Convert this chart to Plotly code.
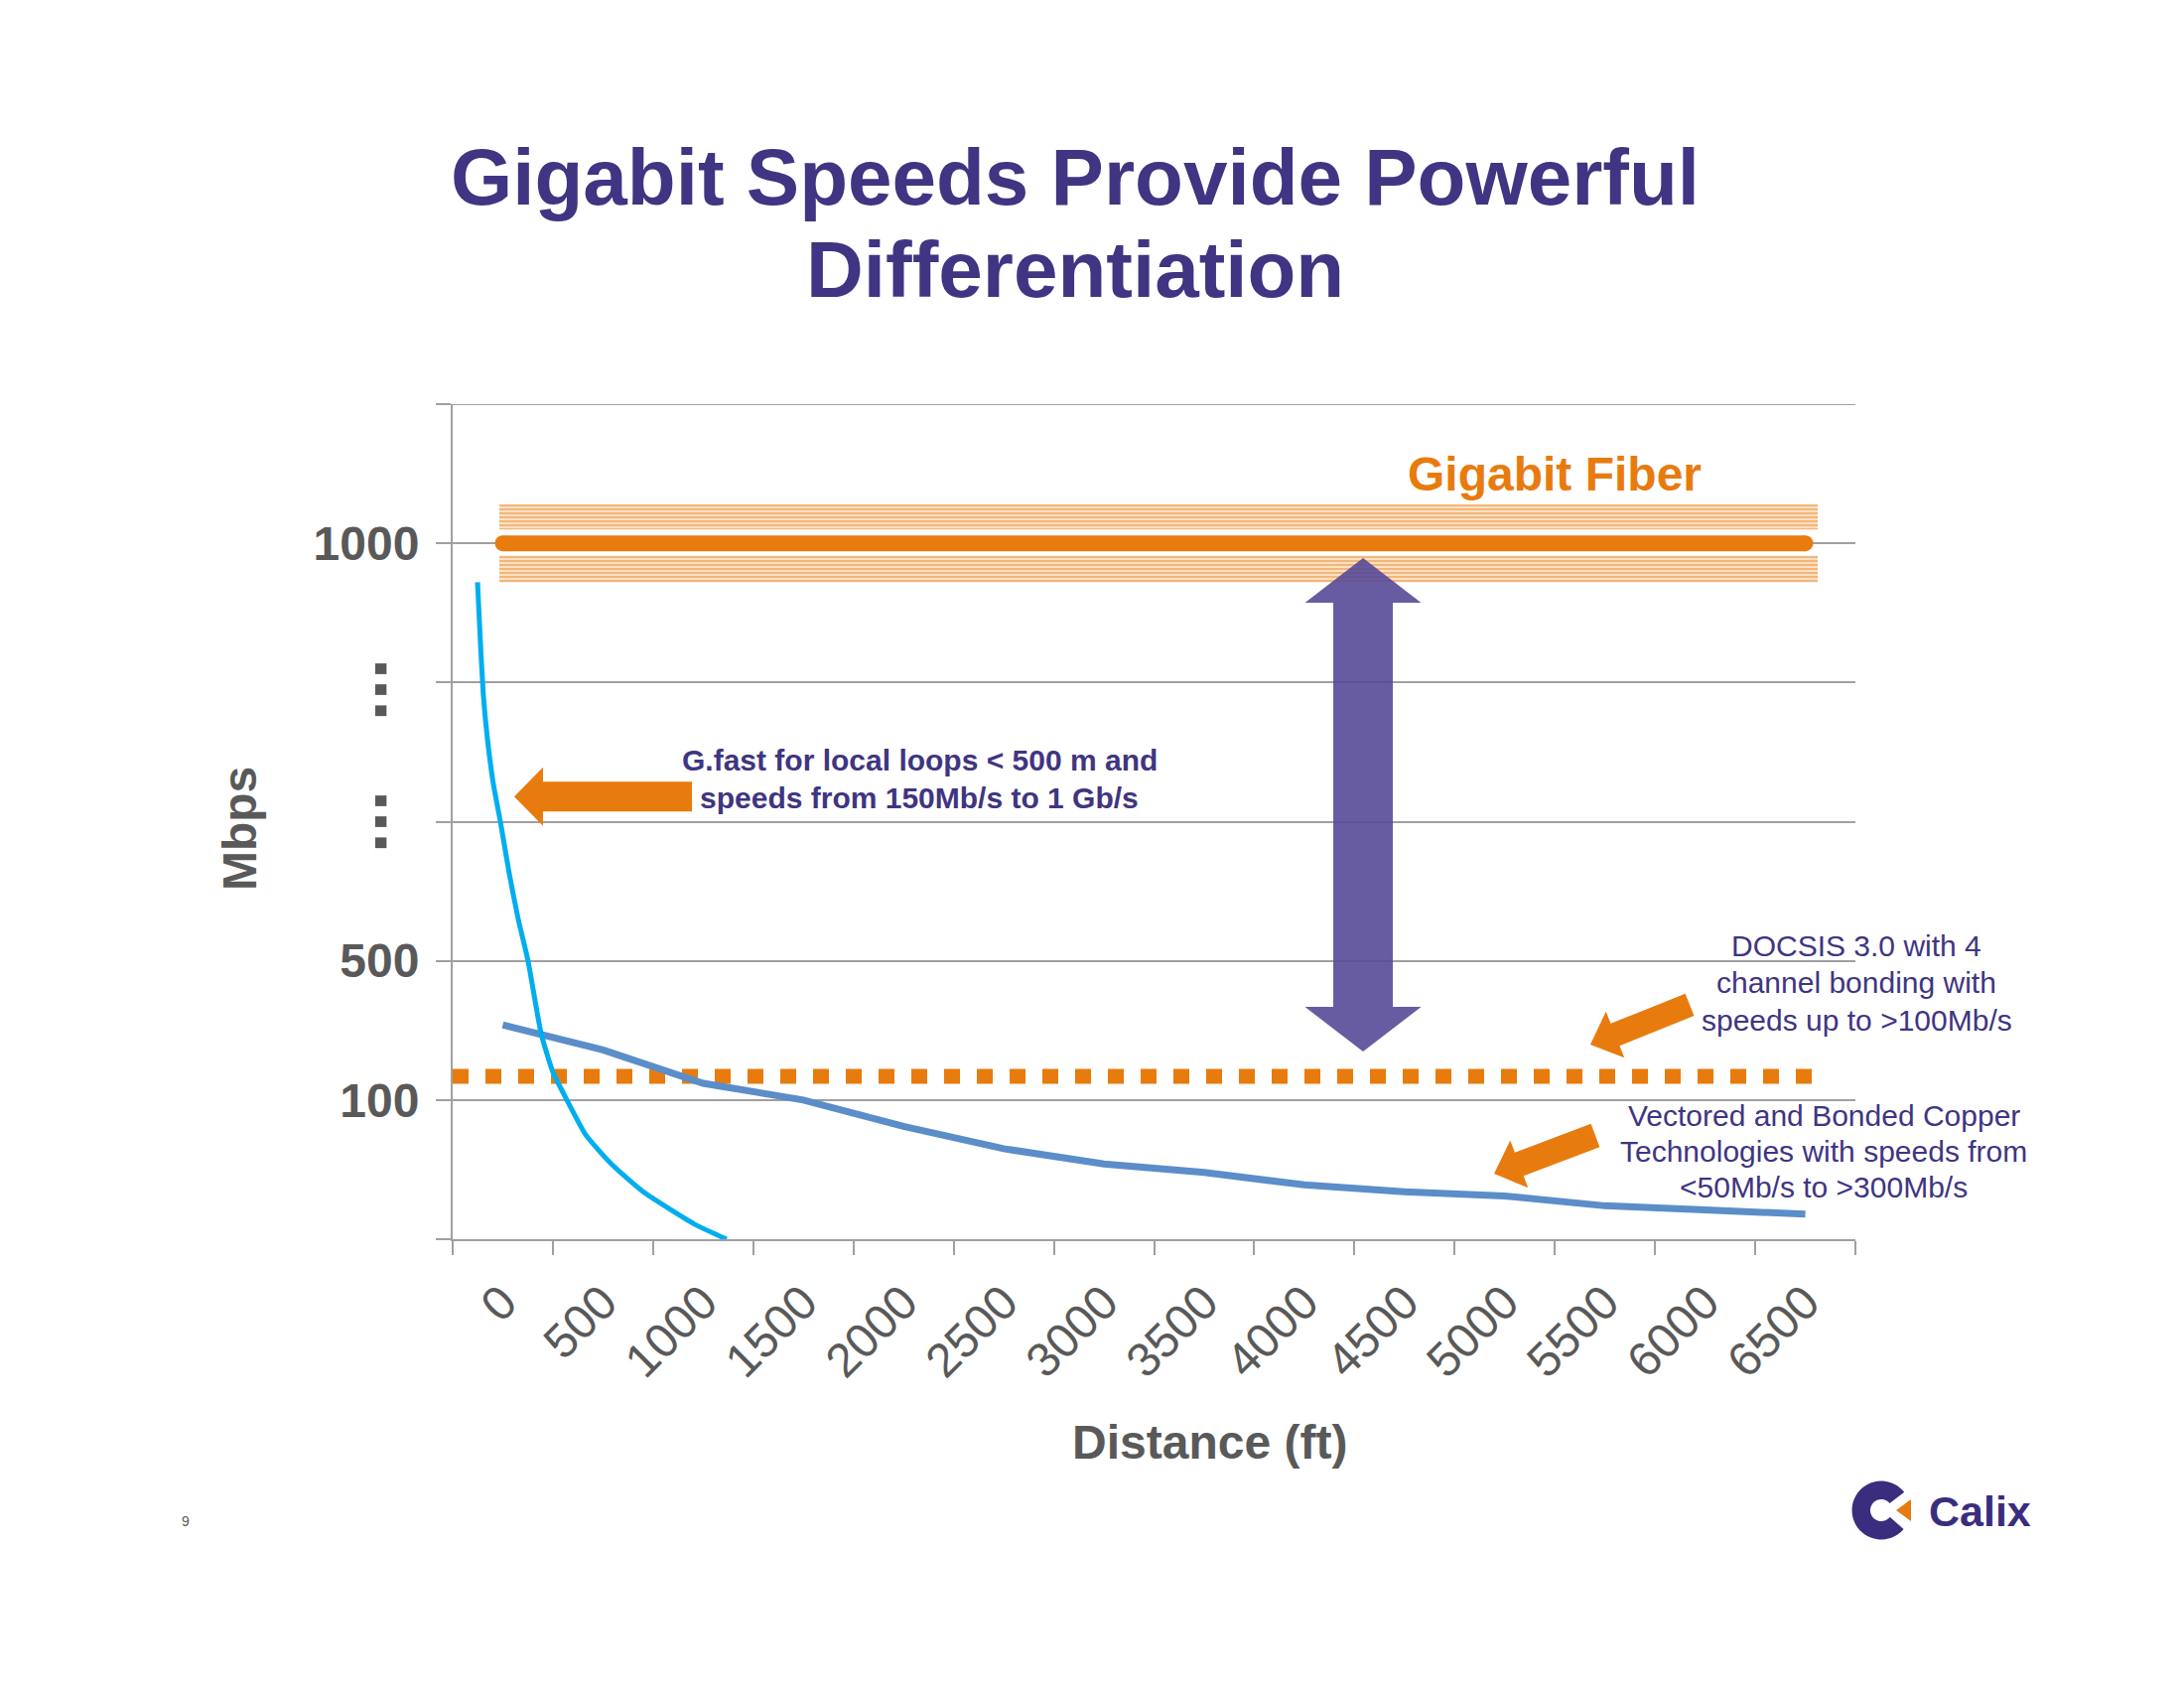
import math
import plotly.graph_objects as go

# ---------------- data ----------------
distance_ft = [0, 500, 1000, 1500, 2000, 2500, 3000, 3500, 4000, 4500, 5000, 5500, 6000, 6500]
distance_labels = [str(d) for d in distance_ft]
boundary_ft = [-250 + 500 * k for k in range(15)]

speed_levels = [0, 1, 2, 3, 4, 5, 6]
speed_labels = ["", "100", "500", "", "", "1000", ""]

# Vectored / bonded copper (level units of the chart's stepped speed axis)
copper_level = [1.54, 1.36, 1.12, 1.0, 0.81, 0.65, 0.54, 0.48, 0.39, 0.34, 0.31, 0.24, 0.21, 0.18]

# G.fast curve
gfast_ft = [-126, -111, -97, -77, -47, -12, 32, 77, 126, 191, 250, 320, 414, 542, 701, 954, 1117]
gfast_level = [4.72, 4.27, 3.91, 3.60, 3.27, 3.0, 2.63, 2.30, 2.0, 1.48, 1.20, 1.0, 0.75, 0.54, 0.34, 0.11, 0.0]

# Gigabit fiber
fiber_ft = [0, 6500]
fiber_level = [5, 5]
fiber_band_ft = [-17, 6562]
fiber_band_upper = [5.10, 5.28]
fiber_band_lower = [4.72, 4.91]

# DOCSIS 3.0
docsis_ft = [-250, 6550]
docsis_level = [1.17, 1.17]

# ---------------- style ----------------
W, H = 2200, 1700
PAGE_OFF = 8                      # browser body margin
L, T = 456, 407                   # plot area (screen px)
PW, PH = 1413, 841
XR = [-250, 6750]
YR = [0, 6]

FONT = "Liberation Sans, Arial, Helvetica, sans-serif"
GREY_TXT = "#595959"
GRID = "#A0A0A0"
ORANGE = "#E87B0E"
PURPLE = "#3F3582"
CYAN = "#00AEEF"
STEEL = "#5B8DC9"


def d2px(x, lvl):
    return (L + (x - XR[0]) / (XR[1] - XR[0]) * PW,
            T + (YR[1] - lvl) / (YR[1] - YR[0]) * PH)


def px2paper(px, py):
    return ((px - L) / PW, (T + PH - py) / PH)


def path_from_px(points):
    pts = [px2paper(*p) for p in points]
    return "M " + " L ".join(f"{x:.5f},{y:.5f}" for x, y in pts) + " Z"


def arrow_px(tail, tip, sw, hw, hl):
    x0, y0 = d2px(*tail)
    x1, y1 = d2px(*tip)
    dx, dy = x1 - x0, y1 - y0
    n = math.hypot(dx, dy)
    ux, uy = dx / n, dy / n
    nx, ny = -uy, ux
    bx, by = x1 - ux * hl, y1 - uy * hl
    return [(x0 + nx * sw, y0 + ny * sw), (bx + nx * sw, by + ny * sw),
            (bx + nx * hw, by + ny * hw), (x1, y1),
            (bx - nx * hw, by - ny * hw), (bx - nx * sw, by - ny * sw),
            (x0 - nx * sw, y0 - ny * sw)]


def double_arrow_px(x, top, bottom, sw, hw, hl):
    cx, ty = d2px(x, top)
    _, by = d2px(x, bottom)
    return [(cx, ty), (cx + hw, ty + hl), (cx + sw, ty + hl), (cx + sw, by - hl),
            (cx + hw, by - hl), (cx, by), (cx - hw, by - hl), (cx - sw, by - hl),
            (cx - sw, ty + hl), (cx - hw, ty + hl)]


fig = go.Figure()

# hatched fiber bands
band_w = fiber_band_ft[1] - fiber_band_ft[0]
band_c = (fiber_band_ft[0] + fiber_band_ft[1]) / 2
fig.add_trace(go.Bar(
    x=[band_c, band_c],
    y=[fiber_band_upper[1] - fiber_band_upper[0], fiber_band_lower[1] - fiber_band_lower[0]],
    base=[fiber_band_upper[0], fiber_band_lower[0]],
    width=[band_w, band_w],
    marker=dict(color="#F2B070", line=dict(width=0),
                pattern=dict(shape="-", fgcolor="#EC8B2C", bgcolor="#FBE0C4", size=4, solidity=0.5)),
    hoverinfo="skip", showlegend=False))

fig.add_trace(go.Scatter(x=docsis_ft, y=docsis_level, mode="lines",
                         line=dict(color=ORANGE, width=15, dash="16px,17px"),
                         hoverinfo="skip", showlegend=False))
fig.add_trace(go.Scatter(x=distance_ft, y=copper_level, mode="lines",
                         line=dict(color=STEEL, width=7),
                         hoverinfo="skip", showlegend=False))
fig.add_trace(go.Scatter(x=gfast_ft, y=gfast_level, mode="lines",
                         line=dict(color=CYAN, width=5, shape="spline", smoothing=0.5),
                         hoverinfo="skip", showlegend=False))
fig.add_trace(go.Scatter(x=fiber_ft, y=fiber_level, mode="lines+markers",
                         line=dict(color=ORANGE, width=16),
                         marker=dict(color=ORANGE, size=16, line=dict(width=0)),
                         hoverinfo="skip", showlegend=False))

shapes = []
# top gridline
shapes.append(dict(type="line", xref="paper", yref="y", x0=0, x1=1, y0=YR[1], y1=YR[1],
                   line=dict(color=GRID, width=2), layer="below"))
# orange arrows
for tail, tip, sw, hw, hl in [
    ((944, 3.18), (57, 3.18), 15, 29.5, 29),
    ((5923, 1.684), (5427, 1.398), 12, 25, 27),
    ((5452, 0.746), (4947, 0.471), 12.5, 25.5, 27),
]:
    shapes.append(dict(type="path", xref="paper", yref="paper", layer="above",
                       path=path_from_px(arrow_px(tail, tip, sw, hw, hl)),
                       fillcolor=ORANGE, line=dict(width=0)))
# purple double arrow
shapes.append(dict(type="path", xref="paper", yref="paper", layer="above",
                   path=path_from_px(double_arrow_px(4293, 4.894, 1.348, 30, 58.5, 45)),
                   fillcolor="#564A98", opacity=0.9, line=dict(width=0)))

# Calix logo mark
cx, cy = 1895, 1521
ro, ri = 29.5, 11
a0, a1 = 38, 322
outer = [(cx + ro * math.cos(math.radians(a)), cy - ro * math.sin(math.radians(a)))
         for a in range(a0, a1 + 1, 6)]
inner = [(cx + ri * math.cos(math.radians(a)), cy - ri * math.sin(math.radians(a)))
         for a in range(a1, a0 - 1, -6)]
shapes.append(dict(type="path", xref="paper", yref="paper", path=path_from_px(outer + inner),
                   fillcolor="#3B2D7E", line=dict(width=0)))
shapes.append(dict(type="path", xref="paper", yref="paper",
                   path=path_from_px([(1910, 1521), (1925, 1510), (1925, 1532)]),
                   fillcolor=ORANGE, line=dict(width=0)))

annotations = []


def ann_px(text, px, py, size, color, bold=False, angle=0, xanchor="center"):
    xp, yp = px2paper(px, py)
    annotations.append(dict(text=f"<b>{text}</b>" if bold else text, x=xp, y=yp,
                            xref="paper", yref="paper", showarrow=False,
                            xanchor=xanchor, yanchor="middle", textangle=angle,
                            font=dict(family=FONT, size=size, color=color)))


def lines_px(lines, px, py0, step, size, color, bold=False):
    for i, t in enumerate(lines):
        ann_px(t, px, py0 + i * step, size, color, bold=bold)


ann_px("Gigabit Speeds Provide Powerful", 1083, 178, 80, PURPLE, bold=True)
ann_px("Differentiation", 1083, 271, 80, PURPLE, bold=True)
ann_px("Mbps", 241, 835, 48, GREY_TXT, bold=True, angle=-90)
ann_px("Distance (ft)", 1218, 1452, 48, GREY_TXT, bold=True)
for py in (694, 827):
    ann_px("...", 405, py, 76, GREY_TXT, bold=True, angle=90)
ann_px("Gigabit Fiber", 1566, 477, 48, ORANGE, bold=True)
lines_px(["G.fast for local loops &lt; 500 m and", "speeds from 150Mb/s to 1 Gb/s"],
         926, 765, 38, 30, PURPLE, bold=True)
lines_px(["DOCSIS 3.0 with 4", "channel bonding with", "speeds up to &gt;100Mb/s"],
         1870, 952, 37.5, 30, PURPLE)
lines_px(["Vectored and Bonded Copper", "Technologies with speeds from", "&lt;50Mb/s to &gt;300Mb/s"],
         1837, 1123, 36, 30, PURPLE)
ann_px("9", 187, 1532, 14, GREY_TXT)
ann_px("Calix", 1941, 1522, 43, "#3B2D7E", bold=True, xanchor="left")

fig.update_layout(
    width=W, height=H,
    margin=dict(l=L - PAGE_OFF, r=W - L - PW + PAGE_OFF, t=T - PAGE_OFF, b=H - T - PH + PAGE_OFF, pad=0),
    paper_bgcolor="white", plot_bgcolor="white",
    showlegend=False, hovermode=False, barmode="overlay",
    font=dict(family=FONT, color=GREY_TXT),
    shapes=shapes, annotations=annotations,
    xaxis=dict(range=XR, tickmode="array", tickvals=distance_ft, ticktext=distance_labels,
               tickangle=-45, tickfont=dict(family=FONT, size=48, color=GREY_TXT),
               ticks="outside", ticklen=14, tickcolor="rgba(0,0,0,0)",
               minor=dict(tickmode="array", tickvals=boundary_ft, ticks="outside",
                          ticklen=14, tickwidth=2, tickcolor=GRID, showgrid=False),
               showgrid=False, zeroline=False, showline=True, linecolor=GRID, linewidth=2,
               fixedrange=True),
    yaxis=dict(range=YR, tickmode="array", tickvals=speed_levels,
               ticktext=[f"<b>{t}</b>" if t else "" for t in speed_labels],
               tickfont=dict(family=FONT, size=48, color=GREY_TXT),
               ticks="outside", ticklen=15, tickwidth=2, tickcolor=GRID, ticklabelstandoff=7,
               showgrid=True, gridcolor=GRID, gridwidth=2,
               zeroline=False, showline=True, linecolor=GRID, linewidth=2,
               fixedrange=True),
)

fig.write_html("out.html")
